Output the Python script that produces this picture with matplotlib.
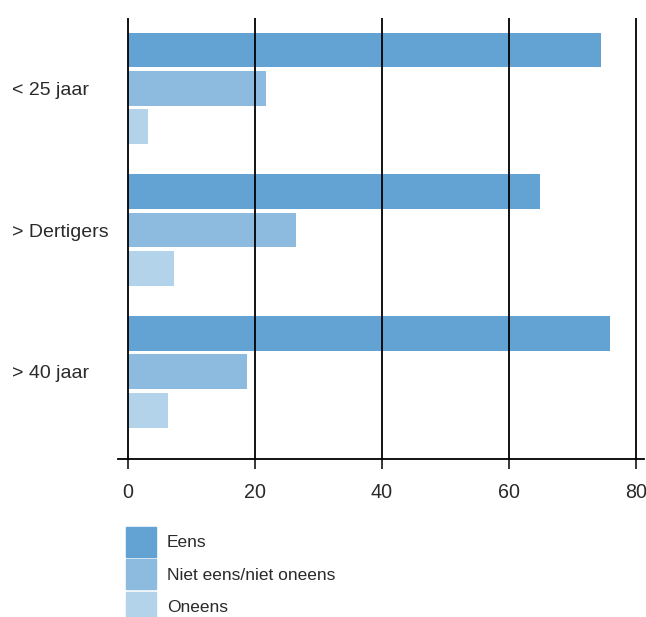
import matplotlib.pyplot as plt
import matplotlib.patches as mpatches
import numpy as np

plt.rcParams['font.family'] = ['Liberation Sans', 'DejaVu Sans']

# data
groepen = ['< 25 jaar', '> Dertigers', '> 40 jaar']
reeksen = ['Eens', 'Niet eens/niet oneens', 'Oneens']
eens = [74.6, 64.9, 75.9]
neutraal = [21.7, 26.4, 18.7]
oneens = [3.2, 7.3, 6.3]
kleuren = ['#62a3d3', '#8cbbdf', '#b2d3e9']
xticks = [0, 20, 40, 60, 80]

fig = plt.figure(figsize=(6.46, 6.17), dpi=100)
ax = fig.add_axes([118/646, 158/617, 526/646, 441/617])

y = np.arange(len(groepen))
step = 0.272
h = 0.247
for i, (vals, kleur) in enumerate(zip([eens, neutraal, oneens], kleuren)):
    ax.barh(y + (i - 1)*step, vals, height=h, color=kleur, label=reeksen[i], zorder=1)

# vertical grid lines on top of the bars
for xt in xticks:
    ax.axvline(xt, color='black', lw=1.3, zorder=3)

ax.set_xlim(-1.6, 81.3)
ax.set_ylim(2.618, -0.498)

ax.set_xticks(xticks)
ax.set_yticks(y)
ax.set_yticklabels(groepen, ha='left')
ax.tick_params(axis='x', direction='out', length=7.5, width=1.1, color='black',
               labelsize=14.2, labelcolor='#2a2a2a', pad=9.5)
# left aligned category labels
ax.tick_params(axis='y', length=0, labelsize=14, labelcolor='#2a2a2a', pad=76)

for s in ['top', 'right', 'left']:
    ax.spines[s].set_visible(False)
ax.spines['bottom'].set_color('black')
ax.spines['bottom'].set_linewidth(1.3)

# legend with square swatches
handles = [mpatches.Patch(color=k, label=r) for k, r in zip(kleuren, reeksen)]
fig.legend(handles=handles, loc='upper left', bbox_to_anchor=(126/646, 1 - 527/617),
           frameon=False, fontsize=12.5, handlelength=1.72, handleheight=2.24,
           handletextpad=0.62, labelspacing=0.17, borderpad=0, borderaxespad=0,
           labelcolor='#2a2a2a')

plt.savefig('out.png', dpi=100)
